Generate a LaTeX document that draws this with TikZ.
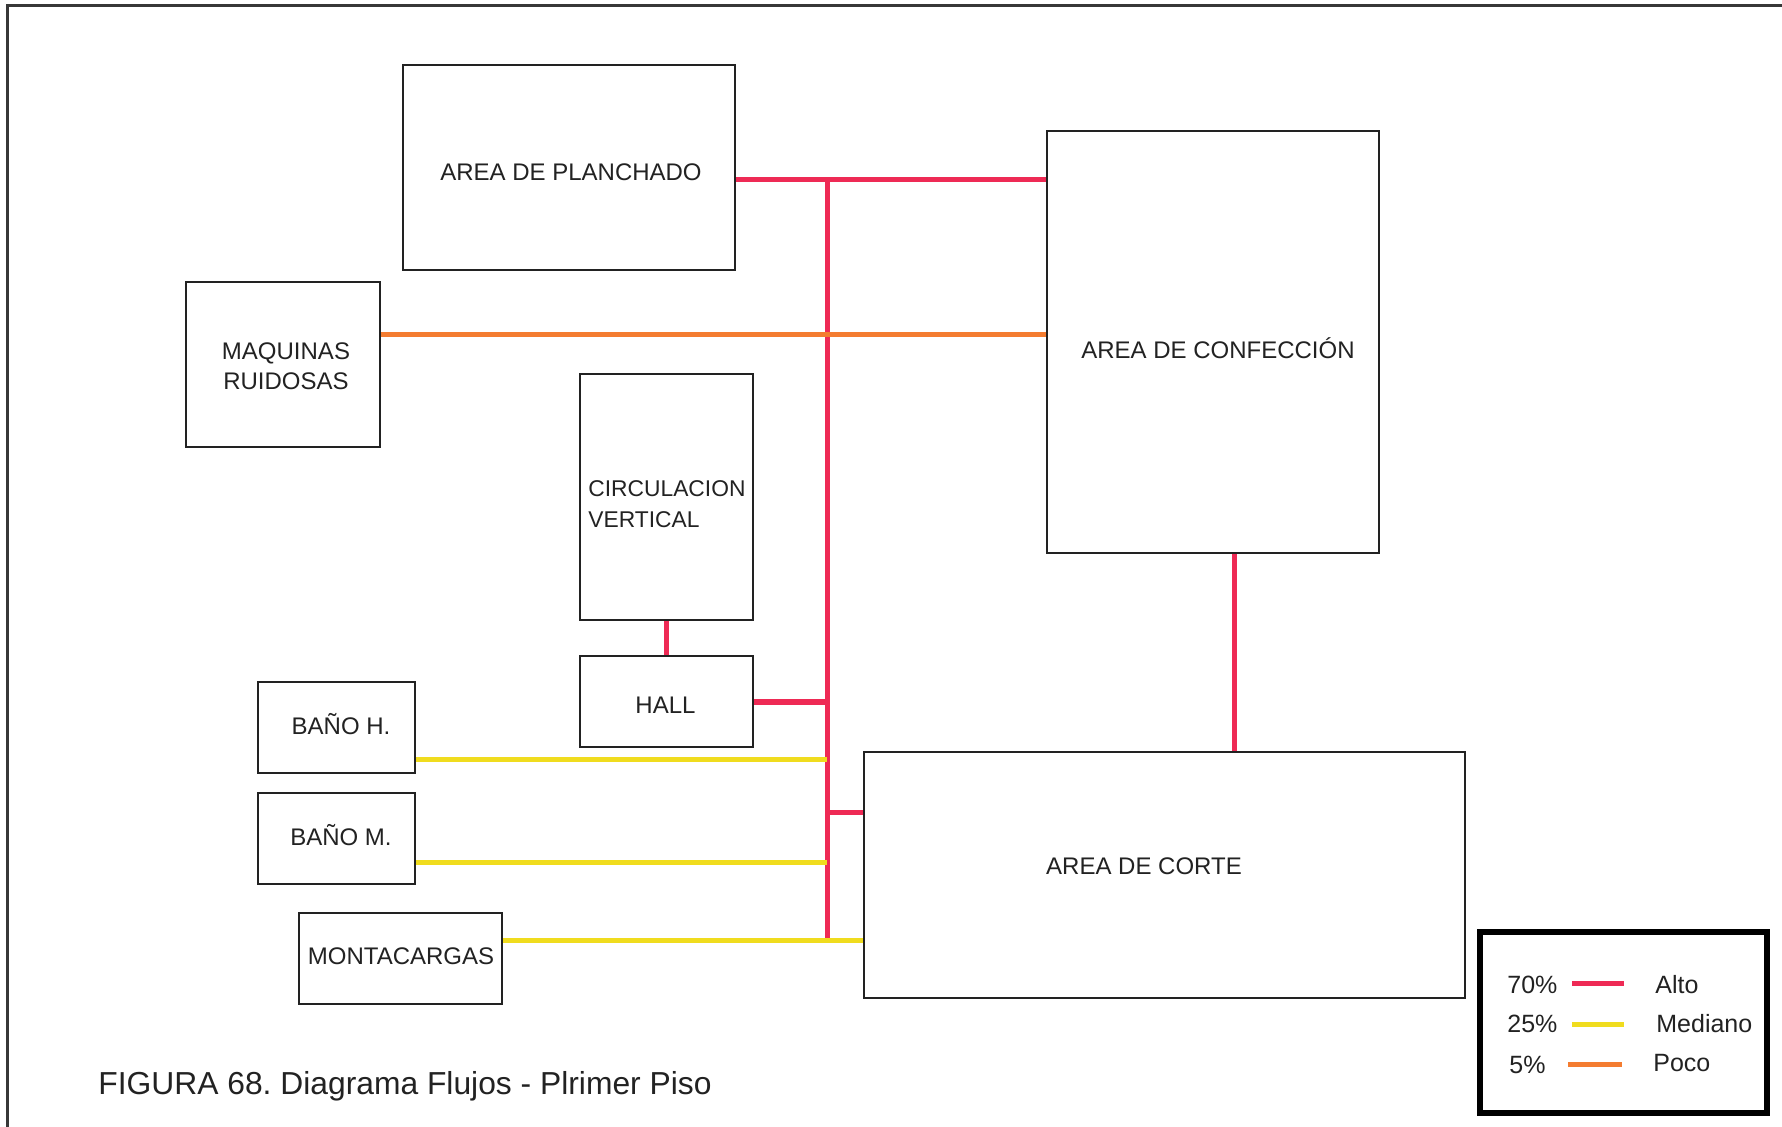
\documentclass[tikz,border=0pt]{standalone}
\usepackage{fontspec}
\setmainfont{Liberation Sans}
\frenchspacing
\definecolor{alto}{HTML}{EE2A55}
\definecolor{mediano}{HTML}{F0DC1E}
\definecolor{poco}{HTML}{F47C30}
\definecolor{ink}{HTML}{222222}
\tikzset{
  box/.style={draw=ink, line width=1.4pt, rectangle, inner sep=0pt, fill=white},
  lbl/.style={text=ink, inner sep=0pt, font=\fontsize{12}{15}\selectfont},
  altoline/.style={draw=alto, line width=2.5pt},
  medline/.style={draw=mediano, line width=2.5pt},
  pocoline/.style={draw=poco, line width=2.5pt},
  leg/.style={text=ink, inner sep=0pt, anchor=west, font=\fontsize{12.5}{15}\selectfont},
}
\begin{document}
\begin{tikzpicture}[x=0.5pt,y=-0.5pt]
\useasboundingbox (0,0) rectangle (1782,1127);
% frame
\draw[draw=ink!90, line width=1.5pt] (7,1127) -- (7,6) -- (1782,6);

% boxes
\node[box, minimum width=166pt, minimum height=102.5pt] (plan) at (569,167.5) {};
\node[box, minimum width=97pt, minimum height=82.5pt] (maq) at (283,364.5) {};
\node[box, minimum width=86.5pt, minimum height=123pt] (circ) at (666.5,497) {};
\node[box, minimum width=86.5pt, minimum height=45.5pt] (hall) at (666.5,701.5) {};
\node[box, minimum width=78.5pt, minimum height=45.5pt] (banoh) at (336.5,727.5) {};
\node[box, minimum width=78.5pt, minimum height=45.5pt] (banom) at (336.5,838.5) {};
\node[box, minimum width=101.5pt, minimum height=45.5pt] (monta) at (400.5,958.5) {};
\node[box, minimum width=166pt, minimum height=211pt] (conf) at (1213,342) {};
\node[box, minimum width=300.5pt, minimum height=123pt] (corte) at (1164.5,875) {};

% texts
\node[lbl] (tplan) at (571,172) {AREA DE PLANCHADO};
\node[lbl, align=center] (tmaq) at (286,366) {MAQUINAS\\RUIDOSAS};
\node[lbl, align=left, anchor=west, font=\fontsize{11.4}{15.5}\selectfont] (tcirc) at (588,504) {CIRCULACION\\VERTICAL};
\node[lbl] (thall) at (665.5,705) {HALL};
\node[lbl] (tbanoh) at (341,724) {BAÑO H.};
\node[lbl] (tbanom) at (341,835) {BAÑO M.};
\node[lbl] (tmonta) at (401,956) {MONTACARGAS};
\node[lbl] (tconf) at (1218,348) {AREA DE CONFECCIÓN};
\node[lbl] (tcorte) at (1144,866) {AREA DE CORTE};

% junction coordinates
\coordinate (jtop) at (827,180);
\coordinate (jor) at (827,335);
\coordinate (jhall) at (827,702);
\coordinate (jbh) at (827,759);
\coordinate (jc) at (827,812);
\coordinate (jbm) at (827,862);
\coordinate (jbot) at (827,940);
\coordinate (jcc) at (1234,553);

% connectors
\draw[altoline] (jtop -| plan.east) -- (jtop -| conf.west);
\draw[altoline] (jtop) -- (jbot);
\draw[pocoline] (jor -| maq.east) -- (jor -| conf.west);
\draw[altoline] (jhall -| hall.east) -- (jhall);
\draw[altoline] (circ.south) -- (hall.north);
\draw[medline] (jbh -| banoh.east) -- (jbh);
\draw[medline] (jbm -| banom.east) -- (jbm);
\draw[medline] (jbot -| monta.east) -- (jbot -| corte.west);
\draw[altoline] (jc) -- (jc -| corte.west);
\draw[altoline] (conf.south -| jcc) -- (corte.north -| jcc);

% caption
\node[text=ink, inner sep=0pt, anchor=west, font=\fontsize{15.9}{18}\selectfont] (cap) at (98,1086) {FIGURA 68. Diagrama Flujos - Plrimer Piso};

% legend
\node[draw=black, line width=2.6pt, rectangle, minimum width=143.5pt, minimum height=90.5pt, inner sep=0pt] (legend) at (1623.5,1022.5) {};
\node[leg] (p70) at (1507,985) {70\%};
\node[leg] (p25) at (1507,1024) {25\%};
\node[leg] (p5) at (1509,1065) {5\%};
\node[leg] (lalto) at (1655,985) {Alto};
\node[leg] (lmed) at (1656,1024) {Mediano};
\node[leg] (lpoco) at (1653,1063) {Poco};
\draw[altoline] (1572,983) -- (1624,983);
\draw[medline] (1572,1024) -- (1624,1024);
\draw[pocoline] (1568,1064) -- (1622,1064);
\end{tikzpicture}
\end{document}
